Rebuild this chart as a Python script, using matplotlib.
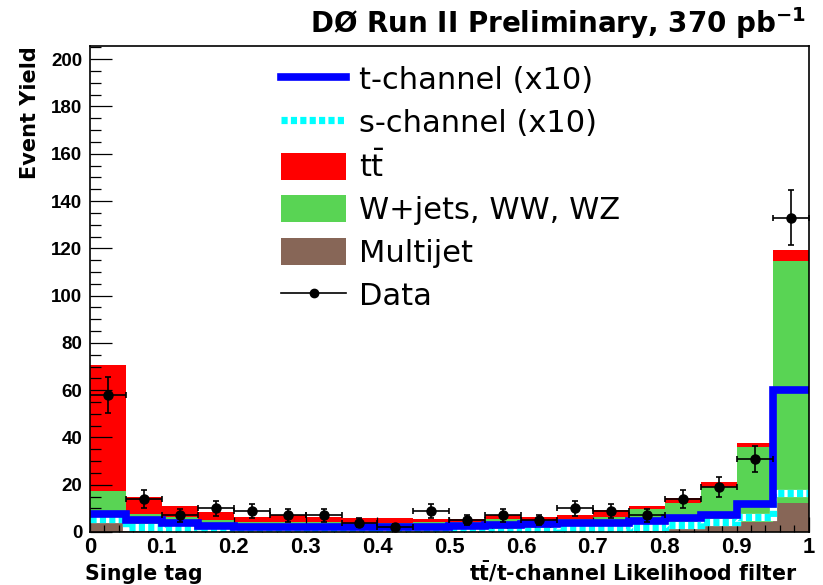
import numpy as np
import matplotlib.pyplot as plt
from matplotlib.lines import Line2D
from matplotlib.patches import Patch
from matplotlib.ticker import MultipleLocator

# 20 bins of the likelihood discriminant, 0 .. 1
bin_edges = np.linspace(0.0, 1.0, 21)

# stacked backgrounds (events per bin)
multijet = [4.4, 1.2, 0.8, 0.6, 0.4, 0.4, 0.4, 0.4, 0.4, 0.4,
            0.5, 0.5, 0.6, 0.8, 1.0, 1.3, 2.2, 3.7, 4.2, 12.2]
wjets = [12.9, 6.4, 5.6, 4.5, 3.8, 3.8, 3.8, 3.4, 3.4, 3.8,
         3.8, 5.1, 4.3, 4.8, 5.4, 8.4, 9.9, 15.5, 31.6, 102.4]
ttbar = [53.5, 7.3, 4.7, 3.2, 2.3, 2.8, 2.3, 2.0, 2.0, 1.4,
         1.0, 1.8, 1.3, 1.4, 3.1, 1.4, 2.2, 2.1, 2.0, 4.6]

# single top signals, scaled x10
tchan_x10 = [7.7, 5.0, 3.6, 2.6, 2.2, 2.2, 2.2, 2.2, 2.0, 2.0,
             2.6, 3.0, 3.3, 3.6, 4.0, 4.8, 5.9, 7.3, 11.8, 60.0]
schan_x10 = [5.5, 2.0, 1.5, 0.8, 0.4, 0.3, 0.0, 0.2, 0.5, 0.4,
             0.1, 0.2, 0.4, 1.2, 1.3, 2.0, 3.0, 4.4, 6.4, 16.4]

# observed events
data_counts = [58, 14, 7, 10, 9, 7, 7, 4, 2, 9,
               5, 7, 5, 10, 9, 7, 14, 19, 31, 133]

xtick_vals = [0, 0.1, 0.2, 0.3, 0.4, 0.5, 0.6, 0.7, 0.8, 0.9, 1.0]
xtick_labels = ["0", "0.1", "0.2", "0.3", "0.4", "0.5", "0.6", "0.7", "0.8", "0.9", "1"]
ytick_vals = [0, 20, 40, 60, 80, 100, 120, 140, 160, 180, 200]
ytick_labels = [str(v) for v in ytick_vals]

c_red = "#ff0000"
c_green = "#59d454"
c_brown = "#876657"
c_blue = "#0000ff"
c_cyan = "#00ffff"

fig = plt.figure(figsize=(8.23, 5.85), dpi=100)
ax = fig.add_axes([0.1094, 0.0906, 0.8730, 0.8308])

mj = np.array(multijet)
wj = np.array(wjets)
tt = np.array(ttbar)

# stack: draw the totals from the top down
ax.stairs(mj + wj + tt, bin_edges, fill=True, color=c_red, lw=0)
ax.stairs(mj + wj, bin_edges, fill=True, color=c_green, lw=0)
ax.stairs(mj, bin_edges, fill=True, color=c_brown, lw=0)

# signal outlines
dash = (0, (0.85, 0.45))
ax.stairs(schan_x10, bin_edges, baseline=None, color="white", lw=5.2, zorder=2)
ax.stairs(schan_x10, bin_edges, baseline=None, color=c_cyan, lw=5.2,
          linestyle=dash, zorder=2.1)
ax.stairs(tchan_x10, bin_edges, baseline=None, color=c_blue, lw=5.5, zorder=2.2)

# data with poisson errors
counts = np.array(data_counts, dtype=float)
centers = 0.5 * (bin_edges[:-1] + bin_edges[1:])
half_w = 0.5 * np.diff(bin_edges)
ax.errorbar(centers, counts, xerr=half_w, yerr=np.sqrt(counts), fmt="o",
            color="black", ms=6.5, lw=1.2, capsize=2.5, capthick=1.2, zorder=5)

ax.set_xlim(0, 1)
ax.set_ylim(0, 205.6)
ax.set_xticks(xtick_vals, xtick_labels, fontsize=15.8, fontweight="bold",
              fontfamily="Liberation Sans")
ax.set_yticks(ytick_vals, ytick_labels, fontsize=13.5, fontweight="bold",
              fontfamily="Liberation Sans")
ax.xaxis.set_minor_locator(MultipleLocator(0.02))
ax.yaxis.set_minor_locator(MultipleLocator(5))
ax.tick_params(which="both", direction="in", top=False, right=False, width=0.9)
ax.tick_params(axis="y", which="major", length=15.5, pad=5.6)
ax.tick_params(axis="y", which="minor", length=7.7)
ax.tick_params(axis="x", which="major", length=10.5, pad=3.6)
ax.tick_params(axis="x", which="minor", length=5.2)
for sp in ax.spines.values():
    sp.set_linewidth(1.2)

ax.set_ylabel("Event Yield", loc="top", fontsize=15, fontweight="bold")
ax.yaxis.set_label_coords(-0.0696, 1.0)
ax.set_xlabel(r"$\mathbf{t\bar{t}}$/t-channel Likelihood filter", loc="right",
              fontsize=14.8, fontweight="bold", va="baseline")
ax.xaxis.set_label_coords(0.984, -0.0988)
ax.text(-0.007, -0.0988, "Single tag", transform=ax.transAxes, ha="left",
        va="baseline", fontsize=14.8, fontweight="bold")

fig.text(0.979, 1 - 33 / 585, r"DØ Run II Preliminary, 370 pb$^{\mathbf{-1}}$",
         ha="right", va="baseline", fontsize=20, fontweight="bold")

handles = [
    Line2D([], [], color=c_blue, lw=5.5),
    Line2D([], [], color=c_cyan, lw=5.2, ls=dash),
    Patch(facecolor=c_red),
    Patch(facecolor=c_green),
    Patch(facecolor=c_brown),
    Line2D([], [], color="black", lw=1.2, marker="o", ms=6),
]
labels = ["t-channel (x10)", "s-channel (x10)", r"$\mathrm{t\bar{t}}$",
          "W+jets, WW, WZ", "Multijet", "Data"]
ax.legend(handles, labels, loc="upper left", bbox_to_anchor=(0.266, 0.961),
          frameon=False, fontsize=22, handlelength=2.12, handleheight=0.98,
          handletextpad=0.42, labelspacing=0.42, borderpad=0, borderaxespad=0,
          numpoints=1)

fig.savefig("out.png", dpi=100)
